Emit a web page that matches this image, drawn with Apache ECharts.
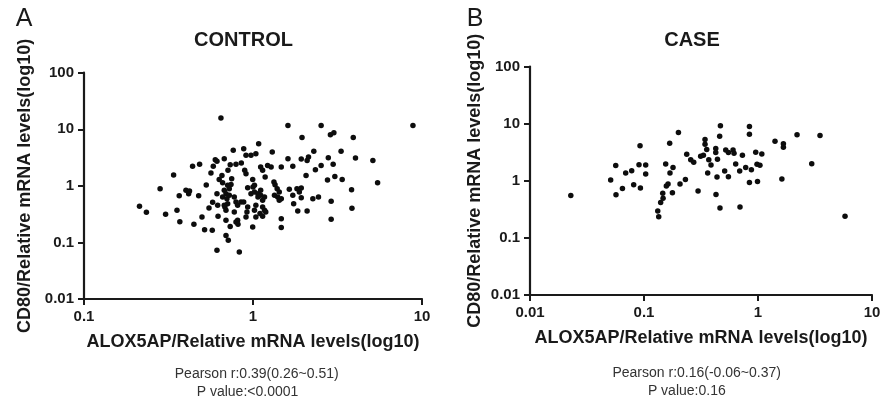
<!DOCTYPE html>
<html>
<head>
<meta charset="utf-8">
<script src="https://cdn.jsdelivr.net/npm/echarts@6/dist/echarts.min.js"></script>
<style>html,body{margin:0;padding:0;background:#fff;}#c{width:890px;height:401px;}</style>
</head>
<body>
<div id="c"></div>
<script>
// CONTROL panel (ALOX5AP vs CD80)
const controlX = [0.646,1.61,2.53,8.84,2.87,3.01,3.92,1.95,1.08,0.764,0.881,1.30,2.29,3.32,0.676,0.909,0.973,1.04,0.598,0.612,0.582,1.61,1.93,2.09,2.13,2.79,4.04,5.12,0.733,0.793,0.853,0.439,0.483,0.711,0.893,0.909,1.11,1.14,1.22,1.28,1.18,1.47,1.72,2.06,2.34,2.53,2.98,0.564,0.339,0.631,0.661,0.655,0.708,0.741,0.996,0.930,1.00,1.02,1.33,1.35,1.39,1.43,1.64,1.82,1.93,1.88,2.76,3.05,3.37,5.46,3.83,0.529,0.282,0.401,0.421,0.416,0.366,0.477,0.676,0.692,0.661,0.701,0.724,0.775,0.793,0.708,0.682,0.811,0.849,0.881,0.973,1.02,1.07,1.11,1.07,1.11,1.17,1.14,1.34,1.40,1.47,1.43,1.72,1.74,1.93,1.84,2.09,2.26,2.44,2.90,3.85,2.90,0.930,1.04,1.14,1.17,0.692,0.775,0.921,1.02,1.10,1.19,0.692,0.811,0.793,0.909,1.04,1.14,0.733,0.996,1.47,1.47,0.692,0.714,0.830,0.612,0.213,0.234,0.304,0.355,0.369,0.447,0.499,0.517,0.574,0.577,0.549,0.618,0.621,0.748,0.612,0.815,0.676,0.724];
const controlY = [15.8,11.7,11.7,11.7,8.03,8.71,7.19,7.19,5.57,4.24,4.54,3.95,4.07,4.07,3.02,3.46,3.46,3.71,2.90,2.71,2.21,3.02,2.97,2.82,3.23,3.15,3.10,2.82,2.37,2.40,2.53,2.21,2.40,1.88,1.88,1.64,2.15,1.88,2.30,2.15,1.43,2.15,2.21,1.53,1.93,2.30,2.40,1.68,1.55,1.29,1.14,1.53,1.02,1.06,1.30,0.929,0.952,1.02,1.17,1.05,0.893,0.777,0.867,0.893,0.914,0.777,1.27,1.47,1.30,1.14,0.857,1.03,0.893,0.832,0.809,0.728,0.671,0.671,0.832,0.728,0.634,0.594,0.679,0.634,0.518,0.485,0.422,0.452,0.518,0.518,0.728,0.777,0.728,0.832,0.634,0.679,0.634,0.554,0.679,0.634,0.594,0.554,0.679,0.485,0.619,0.359,0.359,0.594,0.634,0.532,0.400,0.256,0.422,0.452,0.422,0.369,0.369,0.344,0.344,0.369,0.323,0.344,0.246,0.246,0.229,0.281,0.281,0.289,0.192,0.187,0.263,0.183,0.133,0.109,0.0677,0.0725,0.434,0.340,0.314,0.369,0.233,0.209,0.281,0.168,0.164,0.511,0.405,0.452,0.289,1.34,0.728,0.209,0.452,0.893];

// CASE panel
const caseX = [0.0228,0.0510,0.0565,0.0568,0.0647,0.0691,0.078,0.0812,0.0923,0.0904,0.093,0.1035,0.1035,0.132,0.1346,0.140,0.147,0.146,0.155,0.157,0.1625,0.168,0.169,0.1775,0.1797,0.2004,0.207,0.2308,0.237,0.257,0.273,0.298,0.314,0.332,0.343,0.343,0.355,0.370,0.362,0.387,0.426,0.426,0.441,0.437,0.428,0.468,0.461,0.464,0.510,0.521,0.550,0.550,0.604,0.616,0.637,0.691,0.695,0.730,0.780,0.841,0.841,0.841,0.875,0.955,0.98,0.99,1.04,1.08,1.41,1.67,1.67,1.62,2.20,2.96,3.50,5.80];
const caseY = [0.551,1.03,1.84,0.567,0.732,1.37,1.50,0.851,4.08,1.91,0.744,1.89,1.31,0.296,0.235,0.415,0.496,0.607,1.97,0.807,0.875,4.54,1.37,0.615,1.71,7.0,0.875,1.05,2.90,2.34,2.10,0.659,2.68,2.79,5.27,4.36,3.51,2.34,1.37,1.89,3.66,3.11,2.37,1.16,0.574,9.18,6.03,0.335,1.48,3.47,3.11,1.18,3.47,3.03,1.97,1.48,0.348,2.79,1.71,8.93,6.53,0.933,1.56,3.15,1.94,0.97,1.86,2.95,4.92,4.43,3.86,1.07,6.38,1.99,6.20,0.239];

const xTicksControl = [0.1, 1, 10];
const xTicksCase = [0.01, 0.1, 1, 10];
const yTicks = [0.01, 0.1, 1, 10, 100];

const FONT = 'Liberation Sans, Arial, sans-serif';
const INK = '#1a1a1a';

function zip(a, b) { return a.map((v, i) => [v, b[i]]); }

function logAxis(min, max, gridIndex, name, nameGap) {
  return {
    type: 'log', logBase: 10, min: min, max: max, gridIndex: gridIndex,
    name: name, nameLocation: 'middle', nameGap: nameGap,
    nameTextStyle: { fontFamily: FONT, fontWeight: 'bold', fontSize: 18, color: INK },
    axisLine: { show: true, onZero: false, lineStyle: { color: INK, width: 2.2 } },
    axisTick: { show: true, inside: false, length: 6, lineStyle: { color: INK, width: 2 } },
    axisLabel: { show: true, showMinLabel: true, showMaxLabel: true, margin: 10,
      fontFamily: FONT, fontWeight: 'bold', fontSize: 15, color: INK,
      formatter: v => String(+(+v).toPrecision(3)) },
    splitLine: { show: false }
  };
}

const chart = echarts.init(document.getElementById('c'), null, { renderer: 'canvas' });
chart.setOption({
  animation: false,
  backgroundColor: '#fff',
  grid: [
    { left: 84, top: 72.7, width: 338, height: 226.3 },
    { left: 530, top: 66.5, width: 342, height: 228.5 }
  ],
  xAxis: [
    logAxis(xTicksControl[0], xTicksControl[xTicksControl.length - 1], 0, 'ALOX5AP/Relative mRNA levels(log10)', 34),
    logAxis(xTicksCase[0], xTicksCase[xTicksCase.length - 1], 1, 'ALOX5AP/Relative mRNA levels(log10)', 34)
  ],
  yAxis: [
    logAxis(yTicks[0], yTicks[yTicks.length - 1], 0, 'CD80/Relative mRNA levels(log10)', 50),
    logAxis(yTicks[0], yTicks[yTicks.length - 1], 1, 'CD80/Relative mRNA levels(log10)', 46)
  ],
  series: [
    { type: 'scatter', xAxisIndex: 0, yAxisIndex: 0, data: zip(controlX, controlY),
      symbol: 'circle', symbolSize: 5.5, itemStyle: { color: '#0d0d0d', opacity: 1 }, silent: true },
    { type: 'scatter', xAxisIndex: 1, yAxisIndex: 1, data: zip(caseX, caseY),
      symbol: 'circle', symbolSize: 5.5, itemStyle: { color: '#0d0d0d', opacity: 1 }, silent: true }
  ],
  graphic: [
    { type: 'text', x: 24, y: 19, style: { text: 'A', font: '25px ' + FONT, fill: INK, textAlign: 'center', textVerticalAlign: 'middle' } },
    { type: 'text', x: 475, y: 19, style: { text: 'B', font: '25px ' + FONT, fill: INK, textAlign: 'center', textVerticalAlign: 'middle' } },
    { type: 'text', x: 243.5, y: 40, style: { text: 'CONTROL', font: 'bold 20px ' + FONT, fill: INK, textAlign: 'center', textVerticalAlign: 'middle' } },
    { type: 'text', x: 692, y: 40, style: { text: 'CASE', font: 'bold 20px ' + FONT, fill: INK, textAlign: 'center', textVerticalAlign: 'middle' } },
    { type: 'text', x: 256.7, y: 374, style: { text: 'Pearson r:0.39(0.26~0.51)', font: '14px ' + FONT, fill: '#333', textAlign: 'center', textVerticalAlign: 'middle' } },
    { type: 'text', x: 247.5, y: 392, style: { text: 'P value:<0.0001', font: '14px ' + FONT, fill: '#333', textAlign: 'center', textVerticalAlign: 'middle' } },
    { type: 'text', x: 696.7, y: 373, style: { text: 'Pearson r:0.16(-0.06~0.37)', font: '14px ' + FONT, fill: '#333', textAlign: 'center', textVerticalAlign: 'middle' } },
    { type: 'text', x: 686.8, y: 391, style: { text: 'P value:0.16', font: '14px ' + FONT, fill: '#333', textAlign: 'center', textVerticalAlign: 'middle' } }
  ]
});
</script>
</body>
</html>
